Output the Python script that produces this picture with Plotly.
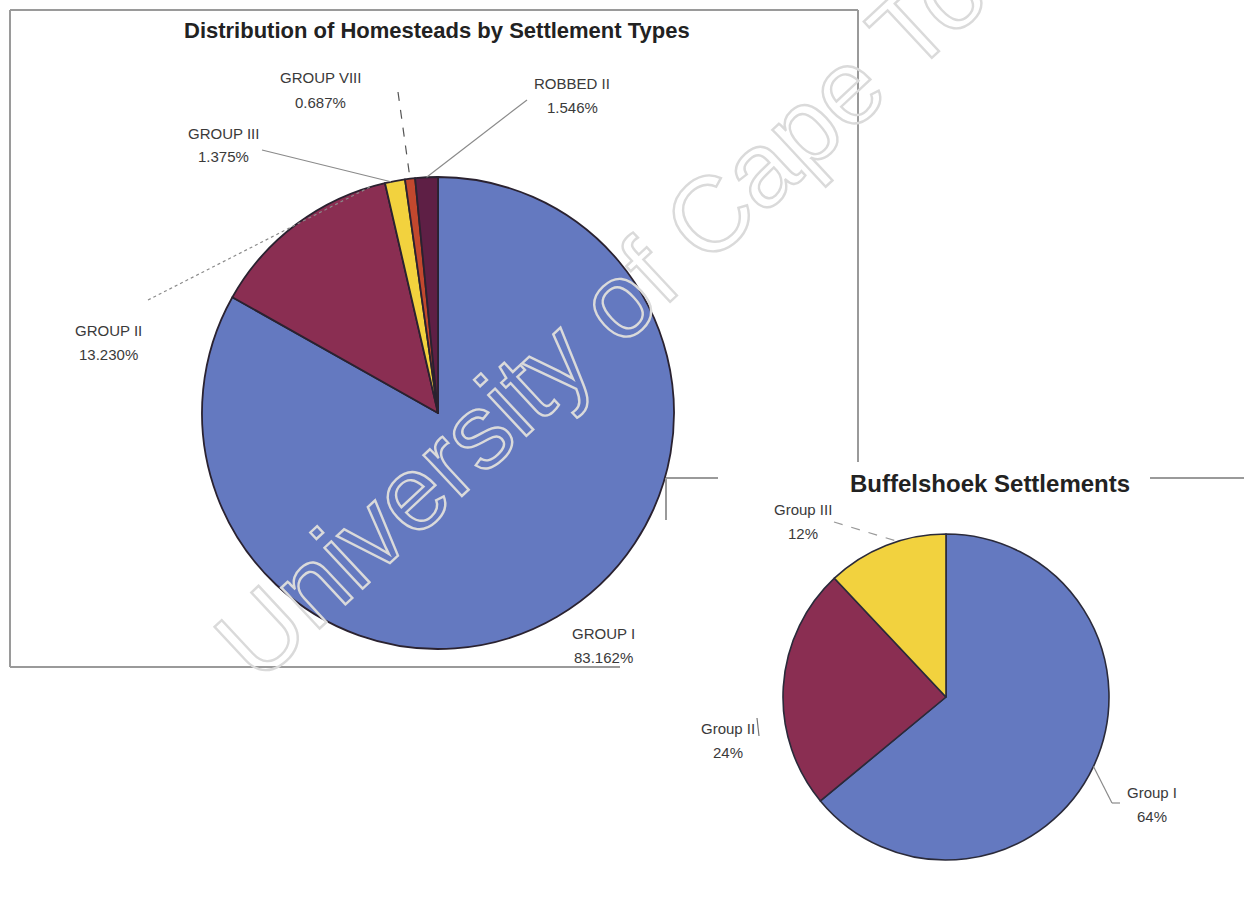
import math
import plotly.graph_objects as go

W, H = 1244, 913

# ---- data ----
main_categories = ["GROUP I", "GROUP II", "GROUP III", "GROUP VIII", "ROBBED II"]
main_values = [83.162, 13.230, 1.375, 0.687, 1.546]
main_pct_text = ["83.162%", "13.230%", "1.375%", "0.687%", "1.546%"]

small_categories = ["Group I", "Group II", "Group III"]
small_values = [64, 24, 12]
small_pct_text = ["64%", "24%", "12%"]

main_colors = ["#6479C0", "#8A2E52", "#F2D23E", "#C2482E", "#5E1F45"]
small_colors = ["#6479C0", "#8A2E52", "#F2D23E"]

# ---- geometry (pixels) ----
C1 = (438, 413); R1 = 236
C2 = (946, 697); R2 = 163


def px(x):
    return x / W


def py(y):
    return 1 - y / H


def dom(c, r):
    return dict(x=[px(c[0] - r), px(c[0] + r)], y=[py(c[1] + r), py(c[1] - r)])


def tip(values, idx, frac, c, r):
    tot = sum(values)
    start = sum(values[:idx]) / tot * 360
    ang = math.radians(start + frac * values[idx] / tot * 360)
    return c[0] + r * math.sin(ang), c[1] - r * math.cos(ang)


fig = go.Figure()
fig.add_trace(go.Pie(
    labels=main_categories, values=main_values, sort=False, direction="clockwise",
    rotation=0, textinfo="none", hoverinfo="label+percent",
    marker=dict(colors=main_colors, line=dict(color="#2a2230", width=1.8)),
    domain=dom(C1, R1), showlegend=False))
fig.add_trace(go.Pie(
    labels=small_categories, values=small_values, sort=False, direction="clockwise",
    rotation=0, textinfo="none", hoverinfo="label+percent",
    marker=dict(colors=small_colors, line=dict(color="#2a2a3a", width=1.6)),
    domain=dom(C2, R2), showlegend=False))

ann = []
shapes = []
lab_font = dict(family="Liberation Sans, Arial, sans-serif", size=15, color="#3a3a3a")


def label(x, y, name, pct):
    ann.append(dict(x=px(x), y=py(y), xref="paper", yref="paper", text=name,
                    showarrow=False, font=lab_font, xanchor="center", yanchor="middle"))
    ann.append(dict(x=px(x), y=py(y + 24), xref="paper", yref="paper", text=pct,
                    showarrow=False, font=lab_font, xanchor="center", yanchor="middle"))


def line(p0, p1, dash="solid", color="#8a8a8a", width=1.2):
    shapes.append(dict(type="line", xref="paper", yref="paper",
                       x0=px(p0[0]), y0=py(p0[1]), x1=px(p1[0]), y1=py(p1[1]),
                       line=dict(color=color, width=width, dash=dash)))


# main pie labels
label(603, 633, main_categories[0], main_pct_text[0])
label(108, 330, main_categories[1], main_pct_text[1])
label(223, 133, main_categories[2], main_pct_text[2])
label(320, 78, main_categories[3], main_pct_text[3])
label(572, 84, main_categories[4], main_pct_text[4])

line((148, 300), tip(main_values, 1, 0.92, C1, R1), dash="dot")
line((262, 150), tip(main_values, 2, 0.3, C1, R1))
line((398, 92), tip(main_values, 3, 0.5, C1, R1), dash="dash", color="#555")
line((527, 100), tip(main_values, 4, 0.5, C1, R1))

# small pie labels
label(1152, 792, small_categories[0], small_pct_text[0])
label(728, 728, small_categories[1], small_pct_text[1])
label(803, 509, small_categories[2], small_pct_text[2])

line((834, 522), tip(small_values, 2, 0.6, C2, R2), dash="dash", color="#999")
line((757, 718), (759, 736), color="#777")
g1 = tip(small_values, 0, 0.5, C2, R2)
line(g1, (1112, 803))
line((1112, 803), (1120, 803))

# titles
ann.append(dict(x=px(437), y=py(30), xref="paper", yref="paper",
                text="<b>Distribution of Homesteads by Settlement Types</b>", showarrow=False,
                font=dict(family="Liberation Sans, Arial, sans-serif", size=22, color="#222"),
                xanchor="center", yanchor="middle"))
ann.append(dict(x=px(990), y=py(483), xref="paper", yref="paper",
                text="<b>Buffelshoek Settlements</b>", showarrow=False,
                font=dict(family="Liberation Sans, Arial, sans-serif", size=24, color="#222"),
                xanchor="center", yanchor="middle"))

# watermark (rendered as outlined text via post_script)
ann.append(dict(x=px(650), y=py(270), xref="paper", yref="paper",
                text="University of Cape Town", showarrow=False, textangle=-43,
                font=dict(family="Liberation Sans, Arial, sans-serif", size=106,
                          color="#d8d8d8"),
                xanchor="center", yanchor="middle"))

# frames
fc = "#9a9a9a"
line((10, 10), (858, 10), color=fc, width=2)
line((10, 10), (10, 667), color=fc, width=2)
line((10, 667), (620, 667), color=fc, width=2)
line((858, 10), (858, 462), color=fc, width=2)
line((666, 478), (718, 478), color=fc, width=2)
line((666, 478), (666, 520), color=fc, width=2)
line((1150, 478), (1244, 478), color=fc, width=2)

fig.update_layout(width=W, height=H, margin=dict(l=0, r=0, t=0, b=0),
                  paper_bgcolor="white", plot_bgcolor="white",
                  annotations=ann, shapes=shapes)

post = """
var els = document.querySelectorAll('text.annotation-text');
els.forEach(function(el){
  if (el.textContent.indexOf('University') === 0) {
    el.style.fill = 'none';
    el.style.stroke = '#dadada';
    el.style.strokeWidth = '2.4px';
  }
});
"""
fig.write_html("out.html", post_script=post)
